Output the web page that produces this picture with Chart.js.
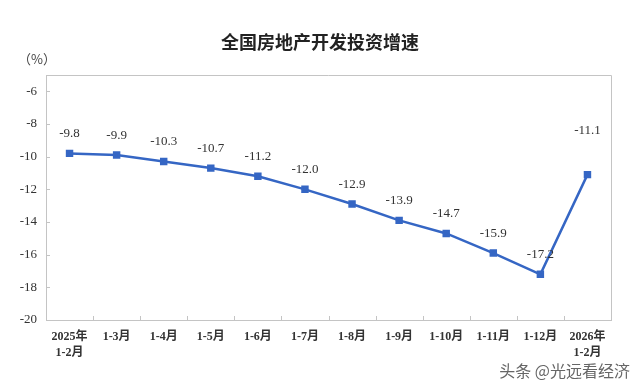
<!DOCTYPE html>
<html>
<head>
<meta charset="utf-8">
<script src="https://cdn.jsdelivr.net/npm/chart.js@4"></script>
<style>
  html, body { margin: 0; padding: 0; background: #fff; }
  #wrap { width: 640px; height: 388px; }
</style>
</head>
<body>
<div id="wrap"><canvas id="growthChart" width="640" height="388"></canvas></div>
<script>
  // 期间（x轴）
  const periods = [["2025年", "1-2月"], "1-3月", "1-4月", "1-5月", "1-6月", "1-7月",
    "1-8月", "1-9月", "1-10月", "1-11月", "1-12月", ["2026年", "1-2月"]];
  // 累计同比增速（%）
  const growth = [-9.8, -9.9, -10.3, -10.7, -11.2, -12.0, -12.9, -13.9, -14.7, -15.9, -17.2, -11.1];
  // y轴刻度
  const yTicks = [-20, -18, -16, -14, -12, -10, -8, -6];

  const serif = '"Liberation Serif", "Noto Sans CJK SC", serif';
  const sans = '"Noto Sans CJK SC", "Noto Sans", sans-serif';
  const axisColor = '#c4c4c4';

  // 图框、内向刻度、标题、数据标签
  const decorPlugin = {
    id: 'decor',
    afterDraw(chart) {
      const c = chart.ctx;
      const a = chart.chartArea;
      const xs = chart.scales.x, ys = chart.scales.y;
      c.save();
      c.strokeStyle = axisColor;
      c.lineWidth = 1;
      c.beginPath();
      c.moveTo(a.left, a.top + 0.5); c.lineTo(a.right + 0.5, a.top + 0.5);
      c.lineTo(a.right + 0.5, a.bottom);
      // y轴刻度线
      yTicks.forEach(v => {
        const y = Math.round(ys.getPixelForValue(v)) + 0.5;
        c.moveTo(a.left, y); c.lineTo(a.left + 4, y);
      });
      // x轴分隔刻度
      for (let i = 1; i < periods.length; i++) {
        const x = Math.round((xs.getPixelForValue(i - 1) + xs.getPixelForValue(i)) / 2) + 0.5;
        c.moveTo(x, a.bottom); c.lineTo(x, a.bottom - 4);
      }
      c.stroke();

      // 数据标签
      const meta = chart.getDatasetMeta(0);
      c.fillStyle = '#333';
      c.font = '13px ' + serif;
      c.textAlign = 'center';
      c.textBaseline = 'bottom';
      meta.data.forEach((pt, i) => {
        const last = i === growth.length - 1;
        c.fillText(growth[i].toFixed(1), pt.x, pt.y - (last ? 38 : 13));
      });

      // 标题
      c.fillStyle = '#222';
      c.font = 'bold 18px ' + sans;
      c.textBaseline = 'middle';
      c.fillText('全国房地产开发投资增速', 320, 42);

      // 单位
      c.fillStyle = '#444';
      c.font = '13px ' + sans;
      c.fillText('（%）', 37, 59);

      // 水印
      c.fillStyle = '#666';
      c.font = '16px ' + sans;
      c.textAlign = 'right';
      c.fillText('头条 @光远看经济', 630, 371);
      c.restore();
    }
  };

  new Chart(document.getElementById('growthChart').getContext('2d'), {
    type: 'line',
    data: {
      labels: periods,
      datasets: [{
        data: growth,
        borderColor: '#3566c4',
        backgroundColor: '#3566c4',
        borderWidth: 2.5,
        pointStyle: 'rect',
        pointRadius: 3.5,
        pointHoverRadius: 3.5,
        tension: 0,
        fill: false
      }]
    },
    options: {
      responsive: false,
      animation: false,
      devicePixelRatio: 1,
      layout: { padding: { top: 75, right: 29, left: 0, bottom: 0 } },
      plugins: {
        legend: { display: false },
        title: { display: false },
        tooltip: { enabled: false }
      },
      scales: {
        x: {
          offset: true,
          grid: { display: false, drawTicks: false },
          border: { display: true, color: axisColor, width: 1 },
          ticks: {
            color: '#333',
            font: { family: serif, size: 12, weight: 'bold', lineHeight: 1.35 },
            padding: 9,
            maxRotation: 0,
            autoSkip: false
          },
          afterFit(scale) { scale.height = 68; }
        },
        y: {
          min: -20,
          max: -5,
          grid: { display: false, drawTicks: false },
          border: { display: true, color: axisColor, width: 1 },
          ticks: {
            color: '#333',
            font: { family: serif, size: 13 },
            padding: 9,
            stepSize: 2
          },
          afterBuildTicks(scale) {
            scale.ticks = yTicks.map(v => ({ value: v }));
          },
          afterFit(scale) { scale.width = 46; }
        }
      }
    },
    plugins: [decorPlugin]
  });
</script>
</body>
</html>
